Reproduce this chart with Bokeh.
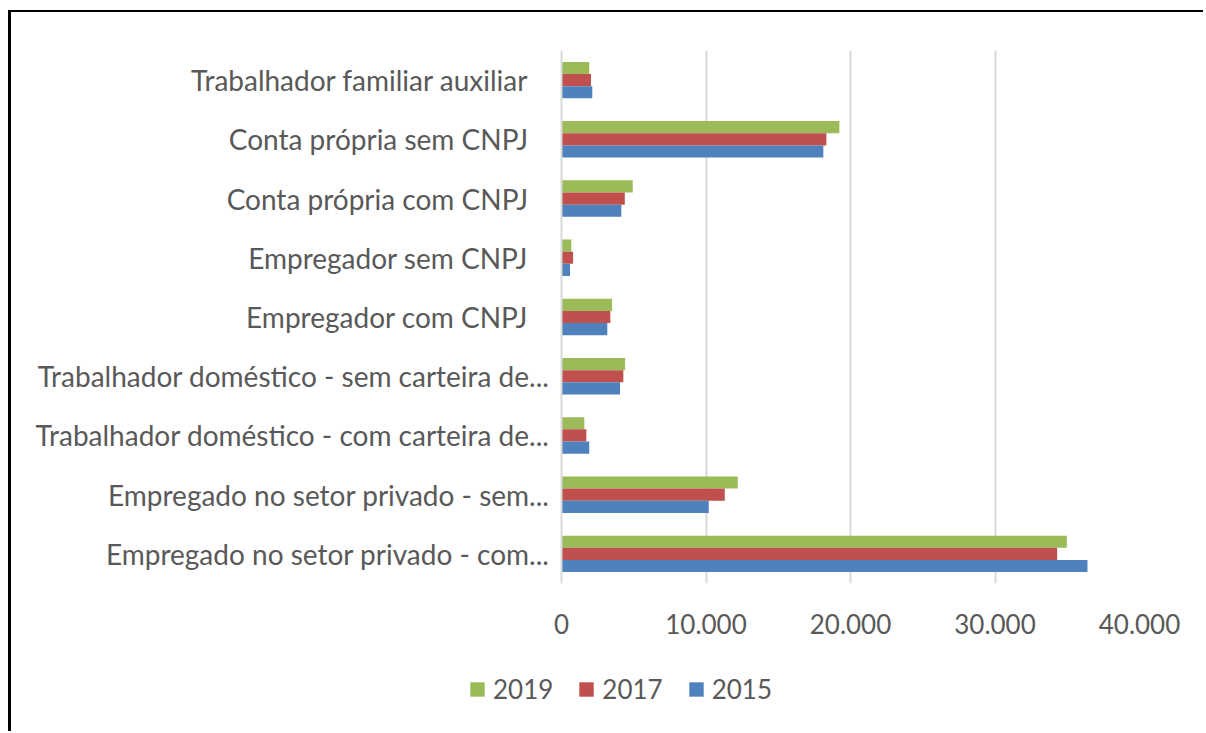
from bokeh.plotting import figure
from bokeh.models import (ColumnDataSource, FactorRange, Range1d, FixedTicker,
                          Legend, LegendItem)
from bokeh.transform import dodge
from bokeh.embed import file_html
from bokeh.resources import INLINE

NB = "\u00a0\u00a0\u00a0"
categories = [
    "Trabalhador familiar auxiliar" + NB,
    "Conta própria sem CNPJ" + NB,
    "Conta própria com CNPJ" + NB,
    "Empregador sem CNPJ" + NB,
    "Empregador com CNPJ" + NB,
    "Trabalhador doméstico - sem carteira de...",
    "Trabalhador doméstico - com carteira de...",
    "Empregado no setor privado - sem...",
    "Empregado no setor privado - com...",
]
v2019 = [1920, 19230, 4930, 680, 3500, 4400, 1580, 12200, 34970]
v2017 = [2040, 18330, 4380, 800, 3380, 4280, 1720, 11300, 34300]
v2015 = [2130, 18120, 4140, 590, 3170, 4050, 1920, 10190, 36400]

tick_values = [0, 10000, 20000, 30000, 40000]
tick_labels = ["0", "10.000", "20.000", "30.000", "40.000"]

series_names = ["2019", "2017", "2015"]
colors = ["#9BBB59", "#C0504D", "#4F81BD"]

FONT = "Lato"
TXT = "#595959"

source = ColumnDataSource(dict(cat=categories, v2019=v2019, v2017=v2017, v2015=v2015))

p = figure(
    width=1195, height=650,
    y_range=FactorRange(*categories[::-1]),
    x_range=Range1d(0, 40000),
    output_backend="svg", toolbar_location=None,
    min_border_left=550, min_border_right=67,
    min_border_top=38, min_border_bottom=79,
)
p.styles = {"border-top": "2px solid #000", "border-left": "3px solid #000",
            "margin-top": "10px", "margin-left": "8px"}
p.outline_line_color = None
p.background_fill_color = "white"
p.border_fill_color = "white"

bh = 0.205
r19 = p.hbar(y=dodge("cat", bh, range=p.y_range), right="v2019", left=0, height=bh,
             source=source, fill_color=colors[0], line_color=None)
r17 = p.hbar(y=dodge("cat", 0, range=p.y_range), right="v2017", left=0, height=bh,
             source=source, fill_color=colors[1], line_color=None)
r15 = p.hbar(y=dodge("cat", -bh, range=p.y_range), right="v2015", left=0, height=bh,
             source=source, fill_color=colors[2], line_color=None)

p.ygrid.grid_line_color = None
p.xgrid.grid_line_color = "#d9d9d9"
p.xgrid.grid_line_width = 2
p.xgrid.ticker = FixedTicker(ticks=tick_values)

xa = p.xaxis[0]
xa.ticker = FixedTicker(ticks=tick_values)
xa.major_label_overrides = {v: l for v, l in zip(tick_values, tick_labels)}
xa.axis_line_color = None
xa.major_tick_line_color = None
xa.minor_tick_line_color = None
xa.major_label_text_font = FONT
xa.major_label_text_font_size = "26px"
xa.major_label_text_color = TXT
xa.major_label_standoff = 24

ya = p.yaxis[0]
ya.axis_line_color = "#d9d9d9"
ya.axis_line_width = 2
ya.major_tick_line_color = None
ya.minor_tick_line_color = None
ya.major_label_text_font = FONT
ya.major_label_text_font_size = "28px"
ya.major_label_text_color = TXT
ya.major_label_standoff = 6

# legend strip below the chart (separate root, so no frame alignment)
p2 = figure(
    width=1195, height=71, x_range=Range1d(0, 1), y_range=Range1d(0, 1),
    x_axis_type=None, y_axis_type=None,
    output_backend="svg", toolbar_location=None,
    min_border=0, min_border_left=0, min_border_right=0,
    min_border_top=0, min_border_bottom=0,
)
p2.styles = {"border-left": "3px solid #000", "margin-left": "8px"}
p2.outline_line_color = None
p2.grid.grid_line_color = None
p2.background_fill_color = "white"
p2.border_fill_color = "white"
lr = [p2.hbar(y=[5], right=[5], left=5, height=0.1, fill_color=c, line_color=None)
      for c in colors]

legend = Legend(
    items=[LegendItem(label=n, renderers=[r]) for n, r in zip(series_names, lr)],
    orientation="horizontal",
    location=(457, 26),
    glyph_width=18, glyph_height=18, label_standoff=7, spacing=24,
    padding=0, margin=0, border_line_color=None, background_fill_alpha=0,
    label_text_font=FONT, label_text_font_size="26px", label_text_color=TXT,
    label_height=14,
)
p2.add_layout(legend, "center")

open("out.html", "w").write(file_html([p, p2], INLINE))
